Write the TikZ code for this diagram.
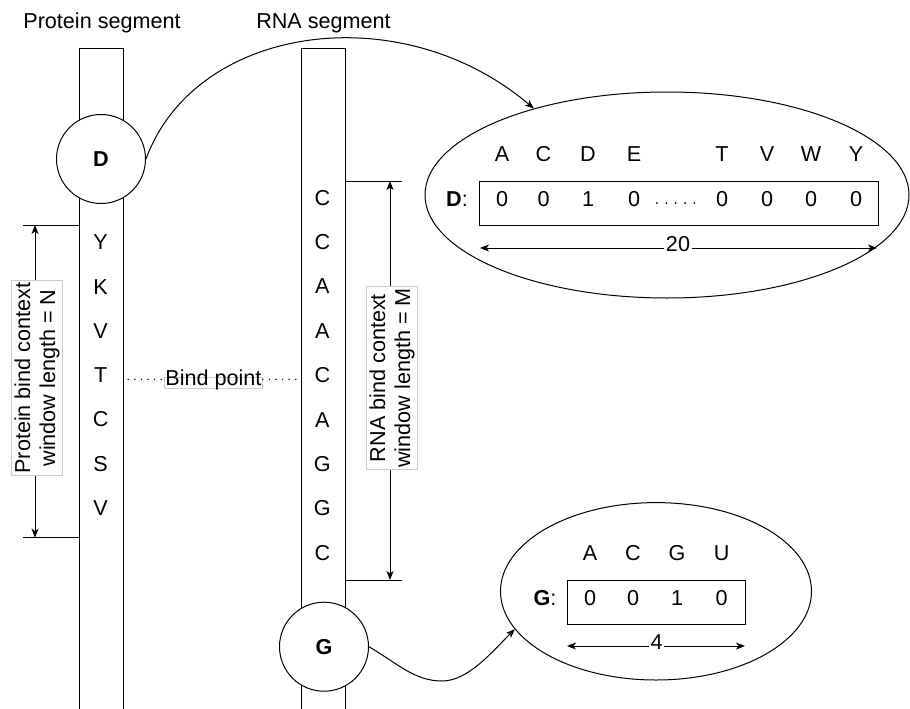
\documentclass[tikz,border=0pt]{standalone}
\usepackage{fontspec}
\setmainfont{Liberation Sans}
\usetikzlibrary{arrows.meta,shapes.geometric,calc}

\begin{document}
\begin{tikzpicture}[x=1pt,y=-1pt,
  every node/.style={font=\fontsize{21.6}{25}\selectfont},
  ln/.style={line width=1pt},
  tip/.style={-{Stealth[length=9pt,width=7pt,inset=2.5pt]}},
  dtip/.style={{Stealth[length=9pt,width=7pt,inset=2.5pt]}-{Stealth[length=9pt,width=7pt,inset=2.5pt]}},
  lt/.style={inner sep=0pt,text height=0.716em,text depth=0pt,anchor=center},
  bar/.style={draw,line width=1pt,minimum width=44.4pt,minimum height=690pt,inner sep=0pt,anchor=north},
  res/.style={circle,draw,line width=1pt,fill=white,minimum size=89pt,inner sep=0pt,font=\fontsize{21.6}{25}\selectfont\bfseries},
  vlabel/.style={rotate=90,align=center,draw=gray!40,line width=0.6pt,fill=white,inner xsep=2pt,inner ysep=3pt},
  dotln/.style={line width=1.6pt,line cap=round,dash pattern=on 0pt off 6.6pt},
  vec/.style={draw,line width=1pt,inner sep=0pt},
  cnt/.style={lt,fill=white,inner xsep=1.5pt}]

\useasboundingbox (0,0) rectangle (910,709);

% column headings
\node[lt] (ptitle) at (102,24.7) {Protein segment};
\node[lt] (rtitle) at (323.5,24.7) {RNA segment};

% the two sequence bars (running off the bottom edge)
\node[bar] (pbar) at (101.5,47.7) {};
\node[bar] (rbar) at (323.2,47.7) {};

% residues of the protein window
\foreach \l/\y [count=\i] in {Y/246,K/290.7,V/335,T/379.3,C/423.3,S/467.7,V/511.7}
  \node[lt] (p\i) at (100.7,\y) {\l};
% nucleotides of the RNA window
\foreach \l/\y [count=\i] in {C/201.7,C/246,A/290.3,A/334.8,C/379.3,A/423.5,G/468,G/512.3,C/556.7}
  \node[lt] (r\i) at (322.3,\y) {\l};

% highlighted residues
\node[res] (dres) at (101,159) {D};
\node[res] (gres) at (324,646.7) {G};

% protein window length
\coordinate (pt1) at (23,225);
\coordinate (pt2) at (23,537.7);
\coordinate (pa1) at (35,225);
\coordinate (pa2) at (35,537.7);
\draw[ln] (pt1) -- (pbar.west |- pt1);
\draw[ln] (pt2) -- (pbar.west |- pt2);
\draw[ln,dtip] (pa1) -- (pa2);
\node[vlabel] (plab) at (37,378) {Protein bind context\\window length = N};

% RNA window length
\coordinate (rt1) at (401.7,181);
\coordinate (rt2) at (401.7,580);
\coordinate (ra1) at (390,181);
\coordinate (ra2) at (390,580);
\draw[ln] (rbar.east |- rt1) -- (rt1);
\draw[ln] (rbar.east |- rt2) -- (rt2);
\draw[ln,dtip] (ra1) -- (ra2);
\node[vlabel] (rlab) at (392,378) {RNA bind context\\window length = M};

% bind point
\node[inner xsep=1pt,inner ysep=0.5pt,text height=0.75em,text depth=0.25em,draw=gray!40,line width=0.6pt,fill=white] (bind) at (213.5,382.5) {Bind point};
\draw[dotln] ($(pbar.east |- p4)+(4,0)$) -- (p4 -| bind.west);
\draw[dotln] (p4 -| bind.east) -- ($(rbar.west |- p4)+(-3,0)$);

% one-hot encoding of D
\node[ellipse,draw,line width=1pt,minimum width=484pt,minimum height=206pt,inner sep=0pt] (dell) at (667,195) {};
\node[vec,minimum width=399.3pt,minimum height=44pt] (dvec) at (678.7,203) {};
\foreach \l/\x [count=\i] in {A/502,C/543.5,D/588,E/634,T/722,V/767,W/811,Y/856}
  \node[lt] (dh\i) at (\x,158) {\l};
\foreach \v/\x [count=\i] in {0/502,0/543.5,1/588,0/634,0/722,0/767,0/811,0/856}
  \node[lt] (dv\i) at (\x,203) {\v};
\draw[line width=2pt,line cap=round,dash pattern=on 0pt off 9.4pt]
  ($(dv4)!0.26!(dv5)$) -- ($(dv4)!0.705!(dv5)$);
\node[lt,anchor=east] (dlab) at (468,203) {\textbf{D}:};
\coordinate (d20l) at (480,248);
\coordinate (d20r) at (877,248);
\draw[ln,dtip] (d20l) -- (d20r);
\node[cnt] (d20) at (678,248) {20};

% one-hot encoding of G
\node[ellipse,draw,line width=1pt,minimum width=311pt,minimum height=177.4pt,inner sep=0pt] (gell) at (656,591.3) {};
\node[vec,minimum width=177.7pt,minimum height=44.3pt] (gvec) at (656.2,602.2) {};
\foreach \l/\x [count=\i] in {A/590,C/633,G/677,U/721.7}
  \node[lt] (gh\i) at (\x,556.7) {\l};
\foreach \v/\x [count=\i] in {0/590,0/633,1/677,0/721.7}
  \node[lt] (gv\i) at (\x,602) {\v};
\node[lt,anchor=east] (glab) at (556.5,602) {\textbf{G}:};
\coordinate (g4l) at (567,646);
\coordinate (g4r) at (745,646);
\draw[ln,dtip] (g4l) -- (g4r);
\node[cnt] (g4) at (656.5,646) {4};

% residue -> encoding connectors
\draw[ln,tip] (dres.east) .. controls (195,25) and (400,-5) .. (dell.147);
\draw[ln,tip] (gres.east) .. controls (398,664) and (415,681) .. (442,681)
  .. controls (468,681) and (492,652) .. (gell.195);

\end{tikzpicture}
\end{document}
